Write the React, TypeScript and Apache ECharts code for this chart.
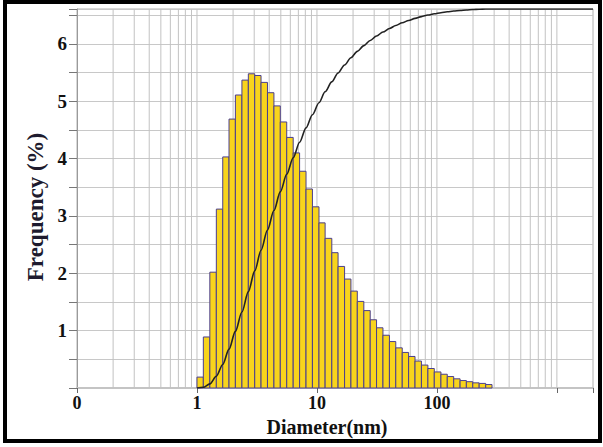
import React, { useEffect, useRef } from "react";
import * as echarts from "echarts";

// Bin edges (nm), log-spaced
const binEdges = [1.0, 1.13, 1.28, 1.45, 1.64, 1.85, 2.09, 2.37, 2.68, 3.03, 3.42, 3.87, 4.38, 4.95, 5.6, 6.34, 7.17, 8.11, 9.17, 10.4, 11.7, 13.3, 15.0, 17.0, 19.2, 21.7, 24.6, 27.8, 31.4, 35.5, 40.2, 45.4, 51.4, 58.1, 65.7, 74.3, 84.1, 95.1, 108, 122, 138, 156, 176, 199, 225, 255, 288];
// Frequency (%) per bin
const frequency = [0.19, 0.89, 2.02, 3.12, 4.03, 4.69, 5.11, 5.37, 5.48, 5.45, 5.33, 5.15, 4.92, 4.64, 4.37, 4.1, 3.78, 3.47, 3.16, 2.88, 2.61, 2.36, 2.12, 1.9, 1.69, 1.51, 1.35, 1.19, 1.05, 0.92, 0.81, 0.7, 0.62, 0.55, 0.47, 0.4, 0.34, 0.28, 0.24, 0.2, 0.16, 0.13, 0.11, 0.09, 0.08, 0.06];
// Cumulative (%) at each bin edge, then plateau to axis end
const cumulativeX = [...binEdges, 2000];
const cumulative = [0, 0.19, 1.08, 3.1, 6.22, 10.25, 14.94, 20.05, 25.42, 30.9, 36.35, 41.68, 46.83, 51.75, 56.39, 60.76, 64.86, 68.64, 72.11, 75.27, 78.15, 80.76, 83.12, 85.24, 87.14, 88.83, 90.34, 91.69, 92.88, 93.93, 94.85, 95.66, 96.36, 96.98, 97.53, 98.0, 98.4, 98.74, 99.02, 99.26, 99.46, 99.62, 99.75, 99.86, 99.95, 100, 100, 100];
// Vertical log grid lines
const gridX = [0.2, 0.3, 0.4, 0.5, 0.6, 0.7, 0.8, 0.9, 1, 2, 3, 4, 5, 6, 7, 8, 9, 10, 20, 30, 40, 50, 60, 70, 80, 90, 100, 200, 300, 400, 500, 600, 700, 800, 900, 1000];
const xLabels: Record<string, string> = { "-1": "0", "0": "1", "1": "10", "2": "100" };

const X_MIN = 0.1;
const X_MAX = 2000;
const Y_MAX = 6.61;
const SERIF = '"Liberation Serif", "DejaVu Serif", serif';

export default function App() {
  const ref = useRef<HTMLDivElement>(null);
  useEffect(() => {
    if (!ref.current) return;
    const chart = echarts.init(ref.current, undefined, { renderer: "svg" });
    const option: any = {
      animation: false,
      backgroundColor: "#ffffff",
      grid: {
        left: 77,
        right: 10,
        top: 9,
        bottom: 59,
        show: true,
        borderColor: "#b0b0b0",
        borderWidth: 1,
      },
      xAxis: {
        type: "log",
        logBase: 10,
        min: X_MIN,
        max: X_MAX,
        axisLine: { show: true, lineStyle: { color: "#c4c4c4", width: 2 } },
        axisTick: { show: true, length: 5, lineStyle: { color: "#666" } },
        splitLine: { show: false },
        axisLabel: {
          margin: 6,
          fontFamily: SERIF,
          fontWeight: "bold",
          fontSize: 18,
          lineHeight: 18,
          color: "#111",
          showMinLabel: true,
          showMaxLabel: true,
          formatter: (v: number) => {
            const l = Math.log10(v);
            const r = Math.round(l);
            if (Math.abs(l - r) > 1e-6) return "";
            return xLabels[String(r)] ?? "";
          },
        },
      },
      yAxis: [
        {
          type: "value",
          min: 0,
          max: Y_MAX,
          interval: 0.5,
          axisLine: { show: true, lineStyle: { color: "#9a9a9a", width: 1 } },
          axisTick: { show: true, length: 8, lineStyle: { color: "#777" } },
          splitLine: { show: true, lineStyle: { color: "#c8c8c8", width: 1 } },
          axisLabel: {
            margin: 10,
            fontFamily: SERIF,
            fontWeight: "bold",
            fontSize: 19,
            color: "#111",
            formatter: (v: number) =>
              Math.abs(v - Math.round(v)) < 1e-6 && v > 0.5 && v < 6.6 ? String(Math.round(v)) : "",
          },
        },
        {
          type: "value",
          min: 0,
          max: 100,
          show: false,
          splitLine: { show: false },
        },
      ],
      graphic: [
        {
          type: "rect",
          shape: { x: 5, y: 2, width: 595, height: 439 },
          style: { fill: "none", stroke: "#000", lineWidth: 4 },
          silent: true,
        },
        {
          type: "text",
          x: 35,
          y: 207,
          rotation: Math.PI / 2,
          style: {
            text: "Frequency (%)",
            font: `bold 23px ${SERIF}`,
            fill: "#1e1b2e",
            align: "center",
            verticalAlign: "middle",
            textAlign: "center",
            textVerticalAlign: "middle",
          },
          silent: true,
        },
        {
          type: "text",
          x: 327,
          y: 427,
          style: {
            text: "Diameter(nm)",
            font: `bold 20px ${SERIF}`,
            fill: "#111",
            align: "center",
            verticalAlign: "middle",
            textAlign: "center",
            textVerticalAlign: "middle",
          },
          silent: true,
        },
      ],
      series: [
        {
          type: "custom",
          name: "grid",
          silent: true,
          z: 1,
          clip: true,
          data: gridX.map((v) => [v]),
          encode: { x: 0 },
          renderItem: (params: any, api: any) => {
            const v = api.value(0);
            const p0 = api.coord([v, 0]);
            const p1 = api.coord([v, Y_MAX]);
            return {
              type: "line",
              shape: { x1: p0[0], y1: p0[1], x2: p1[0], y2: p1[1] },
              style: { stroke: "#c2c2c2", lineWidth: 1 },
            };
          },
        },
        {
          type: "custom",
          name: "Frequency",
          z: 2,
          data: frequency.map((f, i) => [binEdges[i], binEdges[i + 1], f]),
          encode: { x: [0, 1], y: 2 },
          renderItem: (params: any, api: any) => {
            const a = api.coord([api.value(0), api.value(2)]);
            const b = api.coord([api.value(1), 0]);
            return {
              type: "rect",
              shape: { x: a[0], y: a[1], width: b[0] - a[0], height: b[1] - a[1] },
              style: { fill: "#f8d41c", stroke: "#4a3e8f", lineWidth: 1 },
            };
          },
        },
        {
          type: "line",
          name: "Cumulative",
          yAxisIndex: 1,
          z: 3,
          data: cumulativeX.map((x, i) => [x, cumulative[i]]),
          showSymbol: false,
          symbol: "none",
          smooth: 0.3,
          smoothMonotone: "x",
          lineStyle: { color: "#222", width: 1.6 },
        },
      ],
    };
    chart.setOption(option);
    return () => chart.dispose();
  }, []);
  return (
    <div
      ref={ref}
      style={{ position: "absolute", left: 0, top: 0, width: 603, height: 447, background: "#fff" }}
    />
  );
}
